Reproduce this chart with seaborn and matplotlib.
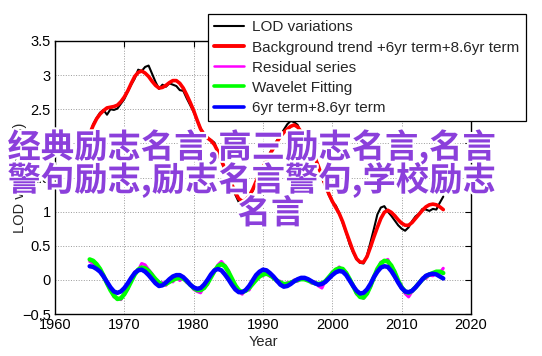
"""LOD variations with trend and decadal terms, MATLAB-style figure."""

import matplotlib

matplotlib.use("Agg")

import matplotlib.patheffects as pe
import matplotlib.pyplot as plt
import numpy as np
import seaborn as sns
from matplotlib.lines import Line2D
from matplotlib.ticker import FuncFormatter

# half-year sampling, 1965.0 .. 2016.0
years = np.arange(1965, 2016.01, 0.5)

lod_values = [
    2.12, 2.28, 2.37, 2.45, 2.49, 2.42, 2.50, 2.49, 2.51, 2.58,
    2.65, 2.76, 2.86, 2.95, 3.08, 3.06, 3.12, 3.14, 3.02, 2.90,
    2.80, 2.86, 2.83, 2.88, 2.86, 2.84, 2.78, 2.77, 2.66, 2.56,
    2.46, 2.34, 2.22, 2.14, 2.07, 2.05, 2.01, 1.86, 1.74, 1.60,
    1.50, 1.36, 1.25, 1.14, 1.11, 1.15, 1.25, 1.30, 1.43, 1.58,
    1.66, 1.72, 1.86, 1.96, 2.04, 2.12, 2.20, 2.28, 2.33, 2.31,
    2.27, 2.15, 2.06, 1.99, 1.86, 1.76, 1.66, 1.49, 1.37, 1.24,
    1.14, 1.09, 0.98, 0.83, 0.69, 0.52, 0.40, 0.30, 0.25, 0.24,
    0.36, 0.55, 0.75, 0.96, 1.06, 1.08, 1.00, 0.94, 0.87, 0.80,
    0.75, 0.72, 0.77, 0.86, 0.93, 0.97, 1.04, 1.03, 1.01, 1.04,
    1.03, 1.13, 1.22,
]

background_trend = [
    2.14, 2.26, 2.36, 2.43, 2.48, 2.52, 2.53, 2.54, 2.56, 2.61,
    2.68, 2.77, 2.88, 2.98, 3.04, 3.06, 3.03, 2.98, 2.91, 2.85,
    2.81, 2.82, 2.85, 2.89, 2.92, 2.92, 2.88, 2.81, 2.71, 2.60,
    2.48, 2.34, 2.21, 2.13, 2.08, 2.04, 1.98, 1.88, 1.75, 1.63,
    1.52, 1.40, 1.28, 1.19, 1.15, 1.17, 1.23, 1.32, 1.44, 1.56,
    1.65, 1.74, 1.84, 1.93, 2.02, 2.10, 2.16, 2.21, 2.25, 2.27,
    2.24, 2.17, 2.08, 1.98, 1.89, 1.79, 1.66, 1.52, 1.39, 1.26,
    1.15, 1.06, 0.97, 0.85, 0.70, 0.56, 0.42, 0.31, 0.26, 0.26,
    0.34, 0.48, 0.63, 0.77, 0.90, 0.99, 1.02, 0.99, 0.94, 0.88,
    0.83, 0.80, 0.80, 0.84, 0.90, 0.96, 1.02, 1.07, 1.10, 1.11,
    1.10, 1.07, 1.03,
]

residual = [
    0.27, 0.24, 0.22, 0.14, 0.08, -0.06, -0.13, -0.25, -0.27, -0.29,
    -0.20, -0.14, 0.01, 0.12, 0.14, 0.24, 0.22, 0.15, 0.09, 0.00,
    -0.05, -0.04, -0.08, -0.01, -0.03, 0.04, -0.01, 0.03, -0.04, -0.06,
    -0.14, -0.17, -0.19, -0.10, -0.07, 0.06, 0.12, 0.22, 0.27, 0.21,
    0.14, 0.00, -0.07, -0.17, -0.21, -0.14, -0.15, -0.04, -0.01, 0.07,
    0.06, 0.11, 0.05, 0.05, -0.03, -0.02, -0.08, -0.04, -0.06, 0.00,
    -0.02, 0.03, 0.00, 0.01, -0.05, -0.03, -0.09, -0.12, -0.01, 0.02,
    0.12, 0.13, 0.19, 0.14, 0.11, -0.01, -0.07, -0.21, -0.24, -0.27,
    -0.18, -0.11, 0.06, 0.14, 0.26, 0.27, 0.30, 0.19, 0.13, -0.03,
    -0.09, -0.20, -0.25, -0.17, -0.10, -0.06, 0.03, 0.02, 0.07, 0.06,
    0.11, 0.10, 0.17,
]

wavelet_fit = [
    0.30, 0.28, 0.23, 0.16, 0.06, -0.05, -0.15, -0.23, -0.28, -0.27,
    -0.21, -0.12, -0.02, 0.08, 0.15, 0.18, 0.17, 0.13, 0.07, 0.01,
    -0.04, -0.07, -0.06, -0.03, 0.00, 0.02, 0.03, 0.02, -0.02, -0.07,
    -0.12, -0.15, -0.15, -0.12, -0.05, 0.04, 0.13, 0.20, 0.23, 0.20,
    0.12, 0.02, -0.08, -0.15, -0.18, -0.16, -0.12, -0.06, 0.00, 0.05,
    0.08, 0.09, 0.07, 0.03, -0.01, -0.04, -0.06, -0.06, -0.04, -0.02,
    0.00, 0.01, 0.01, -0.01, -0.03, -0.05, -0.06, -0.05, -0.02, 0.04,
    0.10, 0.15, 0.17, 0.16, 0.10, 0.01, -0.09, -0.19, -0.25, -0.26,
    -0.20, -0.09, 0.04, 0.16, 0.24, 0.28, 0.27, 0.21, 0.11, -0.01,
    -0.11, -0.17, -0.19, -0.16, -0.11, -0.05, 0.01, 0.05, 0.08, 0.10,
    0.12, 0.12, 0.10,
]

six_plus_86yr = [
    0.20, 0.19, 0.16, 0.12, 0.05, -0.03, -0.11, -0.17, -0.19, -0.17,
    -0.12, -0.05, 0.03, 0.10, 0.14, 0.15, 0.12, 0.07, 0.01, -0.05,
    -0.09, -0.08, -0.04, 0.01, 0.05, 0.07, 0.07, 0.04, -0.01, -0.07,
    -0.11, -0.13, -0.12, -0.07, 0.00, 0.08, 0.14, 0.16, 0.14, 0.08,
    0.01, -0.07, -0.14, -0.18, -0.18, -0.15, -0.09, -0.01, 0.07, 0.12,
    0.15, 0.14, 0.10, 0.05, -0.01, -0.07, -0.10, -0.09, -0.06, -0.02,
    0.01, 0.03, 0.03, 0.01, -0.02, -0.05, -0.07, -0.06, -0.03, 0.02,
    0.07, 0.11, 0.13, 0.12, 0.07, -0.01, -0.09, -0.16, -0.20, -0.19,
    -0.14, -0.06, 0.04, 0.12, 0.18, 0.20, 0.19, 0.13, 0.05, -0.04,
    -0.12, -0.17, -0.18, -0.16, -0.11, -0.05, 0.01, 0.06, 0.08, 0.09,
    0.08, 0.05, 0.02,
]

legend_labels = [
    "LOD variations",
    "Background trend +6yr term+8.6yr term",
    "Residual series",
    "Wavelet Fitting",
    "6yr term+8.6yr term",
]

x_ticks = [1960, 1970, 1980, 1990, 2000, 2010, 2020]
y_ticks = [-0.5, 0, 0.5, 1, 1.5, 2, 2.5, 3, 3.5]

overlay_lines = [
    "经典励志名言,高三励志名言,名言",
    "警句励志,励志名言警句,学校励志",
    "名言",
]

sns.set_theme(style="white")
plt.rcParams["font.family"] = ["Liberation Sans", "DejaVu Sans"]

fig = plt.figure(figsize=(5.42, 3.56), dpi=100)
ax = fig.add_axes([55 / 542, 42 / 356, 416 / 542, 273 / 356])

series = [
    (residual, "#ff00ff", 2.2),
    (wavelet_fit, "#00ff00", 3.2),
    (six_plus_86yr, "#0000ff", 3.2),
    (lod_values, "black", 1.5),
    (background_trend, "#ff0000", 2.6),
]
for values, color, lw in series:
    sns.lineplot(x=years, y=values, ax=ax, color=color, linewidth=lw)

ax.set_xlim(1960, 2020)
ax.set_ylim(-0.5, 3.5)
ax.set_xticks(x_ticks)
ax.set_yticks(y_ticks)
ax.yaxis.set_major_formatter(FuncFormatter(lambda v, _: f"{v:g}".replace("-", "\u2212")))
ax.grid(True, linestyle=":", color="#9a9a9a", linewidth=0.7)
ax.tick_params(direction="in", top=True, right=True, length=4, width=0.8,
               labelsize=10.5, colors="black", pad=3)
for spine in ax.spines.values():
    spine.set_visible(True)
    spine.set_color("black")
    spine.set_linewidth(1.0)

ax.set_xlabel("Year", fontsize=10.5, va="center")
ax.xaxis.set_label_coords(0.5, -(341.5 - 314) / 273)
ax.set_ylabel("LOD values (ms)", fontsize=10.5, va="center")
ax.yaxis.set_label_coords(-(55 - 20) / 416, 0.5)

handles = [
    Line2D([], [], color="black", linewidth=1.5),
    Line2D([], [], color="#ff0000", linewidth=2.8),
    Line2D([], [], color="#ff00ff", linewidth=1.8),
    Line2D([], [], color="#00ff00", linewidth=2.6),
    Line2D([], [], color="#0000ff", linewidth=2.6),
]
leg = ax.legend(
    handles, legend_labels,
    loc="upper left",
    bbox_to_anchor=(208 / 542, 1 - 14 / 356),
    bbox_transform=fig.transFigure,
    fontsize=11,
    frameon=True,
    fancybox=False,
    framealpha=1,
    edgecolor="black",
    borderpad=0.42,
    labelspacing=0.4,
    handlelength=1.95,
    handletextpad=0.5,
    borderaxespad=0,
)
leg.get_frame().set_linewidth(0.9)

overlay_pos = [(252 / 542, 1 - 147 / 356), (252 / 542, 1 - 180 / 356), (271 / 542, 1 - 214 / 356)]
for text, (tx, ty) in zip(overlay_lines, overlay_pos):
    fig.text(
        tx, ty, text,
        ha="center", va="center",
        fontsize=24, fontweight="bold",
        color="#8b3fdb",
        family=["Noto Sans CJK SC", "DejaVu Sans"],
        path_effects=[pe.withStroke(linewidth=3, foreground="white")],
        zorder=10,
    )

fig.savefig("out.png", dpi=100)
plt.close(fig)
